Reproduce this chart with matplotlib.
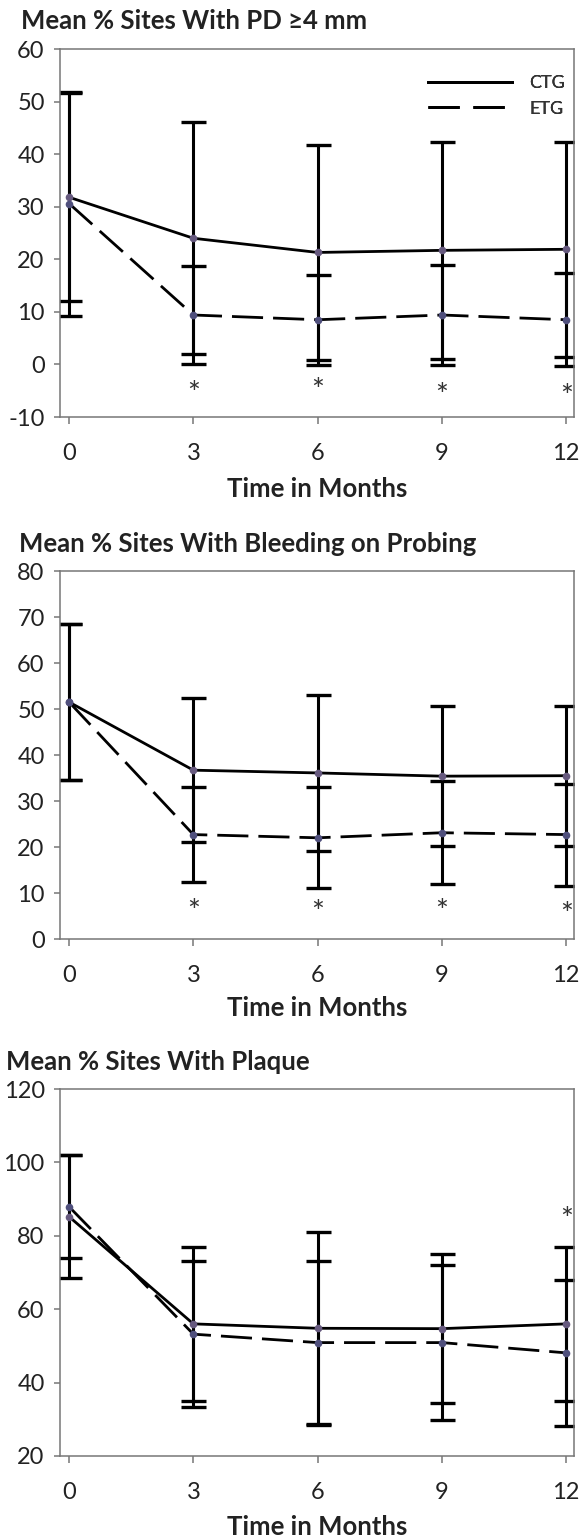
import matplotlib
matplotlib.use("Agg")
import matplotlib.pyplot as plt
from matplotlib.lines import Line2D

# ---- data -------------------------------------------------------------
months = [0, 3, 6, 9, 12]
month_labels = ["0", "3", "6", "9", "12"]

# Sites with probing depth >= 4 mm
pd_ctg_mean = [31.8, 24.0, 21.3, 21.7, 21.9]
pd_ctg_sd = [19.8, 22.1, 20.4, 20.6, 20.4]
pd_etg_mean = [30.6, 9.4, 8.5, 9.4, 8.5]
pd_etg_sd = [21.3, 9.3, 8.6, 9.5, 8.8]
pd_star_x = [3, 6, 9, 12]
pd_star_y = [-4.3, -3.7, -4.6, -4.9]

# Sites with bleeding on probing
bop_ctg_mean = [51.5, 36.7, 36.1, 35.4, 35.5]
bop_ctg_sd = [17.0, 15.6, 17.0, 15.2, 15.2]
bop_etg_mean = [51.5, 22.7, 22.0, 23.1, 22.7]
bop_etg_sd = [16.9, 10.3, 11.0, 11.2, 11.1]
bop_star_x = [3, 6, 9, 12]
bop_star_y = [7.3, 7.1, 7.3, 6.7]

# Sites with plaque
plq_ctg_mean = [85.2, 56.0, 54.8, 54.7, 56.0]
plq_ctg_sd = [16.7, 21.0, 26.3, 20.3, 21.0]
plq_etg_mean = [87.9, 53.2, 50.9, 50.9, 48.1]
plq_etg_sd = [14.0, 19.9, 22.2, 21.1, 19.9]
plq_star_x = [12]
plq_star_y = [86.2]

group_names = ["CTG", "ETG"]

# ---- style --------------------------------------------------------------
FONT = ["Lato", "DejaVu Sans"]
plt.rcParams["font.family"] = FONT
W, H = 580, 1539
DPI = 100
TEXT = "#222222"
SPINE = "#777777"
LINE_W = 2.0
DASH = (11.2, 3.6)
LEGEND_DASH = (11.2, 5.0)

fig = plt.figure(figsize=(W / DPI, H / DPI), dpi=DPI)


def fy(px):
    return 1 - px / H


def fx(px):
    return px / W


def draw_panel(top_px, bot_px, ctg_m, ctg_s, etg_m, etg_s, ylim, ystep,
               star_x, star_y, title, title_x, title_base, xlabel_base):
    left, right = 60, 574
    ax = fig.add_axes([fx(left), fy(bot_px), fx(right - left), (bot_px - top_px) / H])

    # error bars first, lines and markers on top
    for m, s in ((ctg_m, ctg_s), (etg_m, etg_s)):
        ax.errorbar(months, m, yerr=s, fmt="none", ecolor="black",
                    elinewidth=2.2, capsize=9, capthick=2.4, zorder=2)
    ax.plot(months, ctg_m, color="black", lw=LINE_W, zorder=3,
            solid_capstyle="butt")
    ax.plot(months, etg_m, color="black", lw=LINE_W, zorder=3,
            dashes=DASH, dash_capstyle="butt")
    ax.plot(months, ctg_m, "o", ms=5.5, color="#66597e", mec="none", zorder=4)
    ax.plot(months, etg_m, "o", ms=5.5, color="#4f4f7c", mec="none", zorder=4)

    # significance marks; the glyph sits high in its box, so nudge it down
    for sx, sy in zip(star_x, star_y):
        ax.annotate("*", (sx, sy), xytext=(0, -5), textcoords="offset points",
                    ha="center", va="center", fontsize=22,
                    color="#333333", family=FONT)

    ax.set_xlim(-0.22, 12.19)
    ax.set_ylim(*ylim)
    ax.set_xticks(months)
    ax.set_xticklabels(month_labels)
    yt = list(range(ylim[0], ylim[1] + 1, ystep))
    ax.set_yticks(yt)
    ax.set_yticklabels([str(v) for v in yt])

    for sp in ax.spines.values():
        sp.set_color(SPINE)
        sp.set_linewidth(1.1)
    ax.tick_params(axis="both", colors=SPINE, labelcolor=TEXT, labelsize=17,
                   width=1.1, direction="out")
    ax.tick_params(axis="y", length=4, pad=7)
    ax.tick_params(axis="x", length=5, pad=14)

    handles = [Line2D([], [], color="black", lw=LINE_W),
               Line2D([], [], color="black", lw=LINE_W, dashes=LEGEND_DASH)]
    ax.legend(handles, group_names, loc="upper left",
              bbox_to_anchor=((428 - left) / (right - left),
                              1 - (80 - top_px) / (bot_px - top_px) + 0.013),
              frameon=False, fontsize=13, handlelength=4.65,
              handletextpad=0.95, labelspacing=0.52, borderpad=0,
              borderaxespad=0, labelcolor="#333333")

    fig.text(fx(title_x), fy(title_base), title, ha="left", va="baseline",
             fontsize=18.5, fontweight="bold", color=TEXT, family=FONT)
    fig.text(fx((left + right) / 2), fy(xlabel_base), "Time in Months",
             ha="center", va="baseline", fontsize=18.5, fontweight="bold",
             color=TEXT, family=FONT)
    return ax


draw_panel(49, 417, pd_ctg_mean, pd_ctg_sd, pd_etg_mean, pd_etg_sd,
           (-10, 60), 10, pd_star_x, pd_star_y,
           "Mean % Sites With PD \u22654 mm", 21, 29, 497)
draw_panel(571, 939, bop_ctg_mean, bop_ctg_sd, bop_etg_mean, bop_etg_sd,
           (0, 80), 10, bop_star_x, bop_star_y,
           "Mean % Sites With Bleeding on Probing", 19, 552, 1016)
draw_panel(1089, 1456, plq_ctg_mean, plq_ctg_sd, plq_etg_mean, plq_etg_sd,
           (20, 120), 20, plq_star_x, plq_star_y,
           "Mean % Sites With Plaque", 6, 1070, 1535)

fig.savefig("out.png", dpi=DPI)
